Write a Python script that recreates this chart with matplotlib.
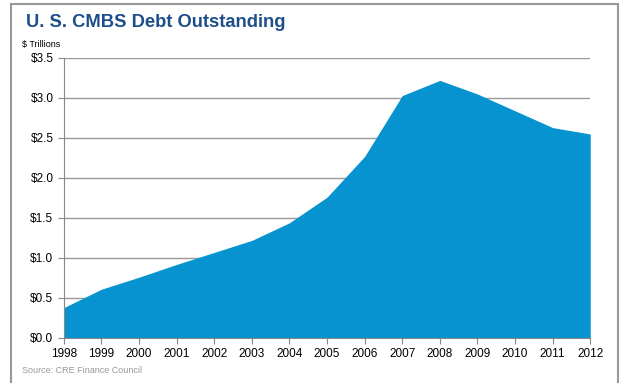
import matplotlib.pyplot as plt
from matplotlib.patches import Rectangle
from matplotlib.ticker import FuncFormatter

plt.rcParams['font.family'] = ['Liberation Sans', 'DejaVu Sans']

# Datos (billones de USD)
anios = [1998, 1999, 2000, 2001, 2002, 2003, 2004, 2005, 2006, 2007, 2008, 2009, 2010, 2011, 2012]
deuda = [0.38, 0.61, 0.76, 0.92, 1.07, 1.22, 1.44, 1.76, 2.27, 3.03, 3.22, 3.05, 2.84, 2.63, 2.55]

fig = plt.figure(figsize=(6.2, 3.83), dpi=100)
ax = fig.add_axes([0.103, 0.1175, 0.849, 0.7311])

ax.fill_between(anios, deuda, 0, color='#0693CF', linewidth=0)
ax.set_xlim(1998, 2012)
ax.set_ylim(0, 3.5)
ax.set_xticks(anios)
ax.set_yticks([0, 0.5, 1.0, 1.5, 2.0, 2.5, 3.0, 3.5])
ax.yaxis.set_major_formatter(FuncFormatter(lambda v, p: f'${v:.1f}'))
ax.grid(axis='y', color='#999999', linewidth=1)
ax.set_axisbelow(True)
for s in ['top', 'right']:
    ax.spines[s].set_visible(False)
ax.spines['left'].set_color('#888888')
ax.spines['bottom'].set_color('#888888')
ax.tick_params(axis='both', colors='#888888', labelcolor='black', labelsize=8.5, length=4)

fig.text(0.042, 0.94, 'U. S. CMBS Debt Outstanding', fontsize=13.2, fontweight='bold',
         color='#1C4F8A', va='center', ha='left')
fig.text(0.035, 0.884, '$ Trillions', fontsize=6.5, va='center', ha='left')
fig.text(0.035, 0.033, 'Source: CRE Finance Council', fontsize=6.5, color='#999999',
         va='center', ha='left')

fig.patches.append(Rectangle((0.018, -0.01), 0.979, 1.0, transform=fig.transFigure,
                             fill=False, edgecolor='#999999', linewidth=1.5))

fig.savefig('out.png', dpi=100)
